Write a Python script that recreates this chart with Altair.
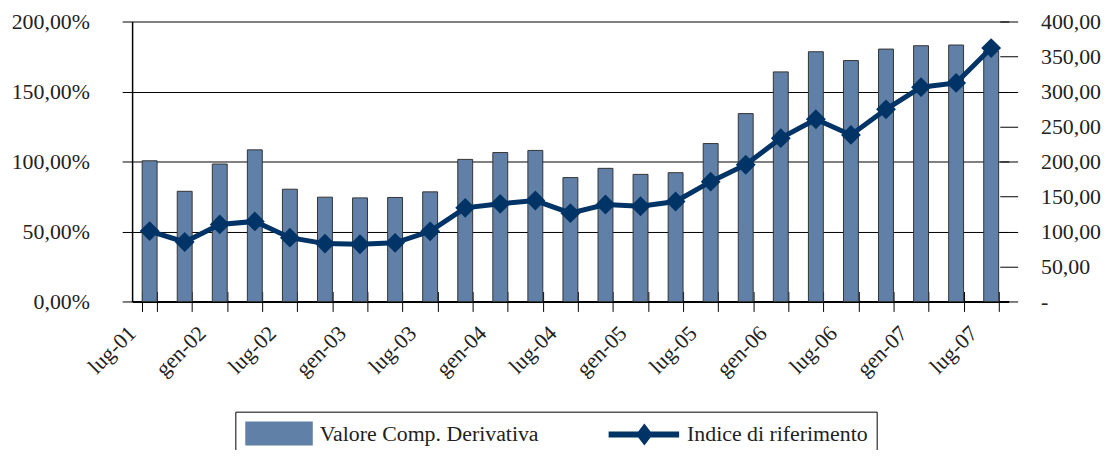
import altair as alt
import pandas as pd

categorie = ["lug-01", "ott-01", "gen-02", "apr-02", "lug-02", "ott-02", "gen-03", "apr-03",
             "lug-03", "ott-03", "gen-04", "apr-04", "lug-04", "ott-04", "gen-05", "apr-05",
             "lug-05", "ott-05", "gen-06", "apr-06", "lug-06", "ott-06", "gen-07", "apr-07", "lug-07"]
valore_comp = [100.5, 78.7, 98.2, 108.3, 80.2, 74.5, 74.0, 74.3, 78.3, 101.5, 106.4, 107.9, 88.5,
               95.1, 90.8, 92.0, 112.8, 134.2, 164.0, 178.4, 172.1, 180.3, 182.7, 183.2, 179.0]
indice = [100.6, 85.0, 110.1, 114.4, 91.2, 82.7, 81.7, 83.8, 100.2, 133.8, 139.5, 144.2, 126.2,
          138.5, 136.1, 142.8, 171.2, 195.4, 233.3, 260.3, 238.0, 274.5, 306.2, 312.3, 362.0]
serie = ["Valore Comp. Derivativa", "Indice di riferimento"]

BAR_COLOR = "#6080a8"
LINE_COLOR = "#003366"
FONT = "Liberation Serif"
FS = 22

df = pd.DataFrame({"cat": categorie, "valore": valore_comp, "indice": indice})
legend_df = pd.DataFrame({"serie": serie})

x_enc = alt.X(
    "cat:N", sort=categorie, title=None,
    scale=alt.Scale(paddingInner=0.575, paddingOuter=0.2875),
    axis=alt.Axis(
        labelExpr="(indexof(datum.label + '', 'lug') == 0 || indexof(datum.label + '', 'gen') == 0) ? datum.label : ''",
        labelAngle=-45, labelAlign="right", labelBaseline="middle",
        labelOffset=-18, labelPadding=18, offset=-10, tickSize=20, tickBand="extent",
        domain=False, tickColor="black", tickWidth=1,
        labelFont=FONT, labelFontSize=FS, labelColor="#222", grid=False,
    ),
)

bars = alt.Chart(df).mark_bar(color=BAR_COLOR, stroke="#333", strokeWidth=1).encode(
    x=x_enc,
    y=alt.Y("valore:Q", title=None,
            scale=alt.Scale(domain=[0, 200], nice=False),
            axis=alt.Axis(values=[0, 50, 100, 150, 200], orient="left",
                          labelExpr="replace(format(datum.value, '.2f'), '.', ',') + '%'",
                          tickSize=10, labelPadding=33, grid=True, gridColor="black",
                          gridWidth={"condition": {"test": "datum.value === 0", "value": 2}, "value": 1},
                          domainColor="black", domainWidth=1.5, tickColor="black",
                          labelFont=FONT, labelFontSize=FS, labelColor="#222")),
)

y_right = alt.Y("indice:Q", title=None,
                scale=alt.Scale(domain=[0, 400], nice=False),
                axis=alt.Axis(values=[0, 50, 100, 150, 200, 250, 300, 350, 400], orient="right",
                              labelExpr="datum.value == 0 ? '-' : replace(format(datum.value, '.2f'), '.', ',')",
                              offset=-9, tickSize=18, labelPadding=23, grid=False, domain=False,
                              tickColor="black",
                              labelFont=FONT, labelFontSize=FS, labelColor="#222"))

line = alt.Chart(df).mark_line(color=LINE_COLOR, strokeWidth=5).encode(x=alt.X("cat:N", sort=categorie), y=y_right)
points = alt.Chart(df).mark_point(shape="diamond", filled=True, size=400, color=LINE_COLOR, opacity=1).encode(
    x=alt.X("cat:N", sort=categorie), y=y_right)

rect_path = "M-0.867,-0.867H3.667V0.733H-0.867Z"
line_path = "M-1.133,-0.2H3.6V0.2H-1.133Z M0.7,0L1.267,-0.733L1.833,0L1.267,0.733Z"

legend_layer = alt.Chart(legend_df).mark_point(filled=True, clip=True, opacity=1, size=900).encode(
    x=alt.value(0),
    y=alt.value(-1000),
    color=alt.Color("serie:N", sort=serie, title=None,
                    scale=alt.Scale(domain=serie, range=[BAR_COLOR, LINE_COLOR]),
                    legend=alt.Legend(orient="none", legendX=104, legendY=393, direction="horizontal",
                                      strokeColor="black", fillColor="white", padding=8,
                                      symbolSize=900, labelOffset=47, columnPadding=70,
                                      symbolStrokeWidth=0, labelLimit=400,
                                      labelFont=FONT, labelFontSize=FS, labelColor="#222")),
    shape=alt.Shape("serie:N", sort=serie, title=None,
                    scale=alt.Scale(domain=serie, range=[rect_path, line_path])),
)

right_layer = alt.layer(line, points, legend_layer)

chart = alt.layer(bars, right_layer).resolve_scale(y="independent").properties(
    width=883, height=282,
    padding={"left": 125, "top": 12, "right": 99, "bottom": 148},
    autosize=alt.AutoSizeParams(type="none"),
    background="white",
).configure_view(stroke=None)

chart.save("out.html", embed_options={"renderer": "svg", "actions": False})
